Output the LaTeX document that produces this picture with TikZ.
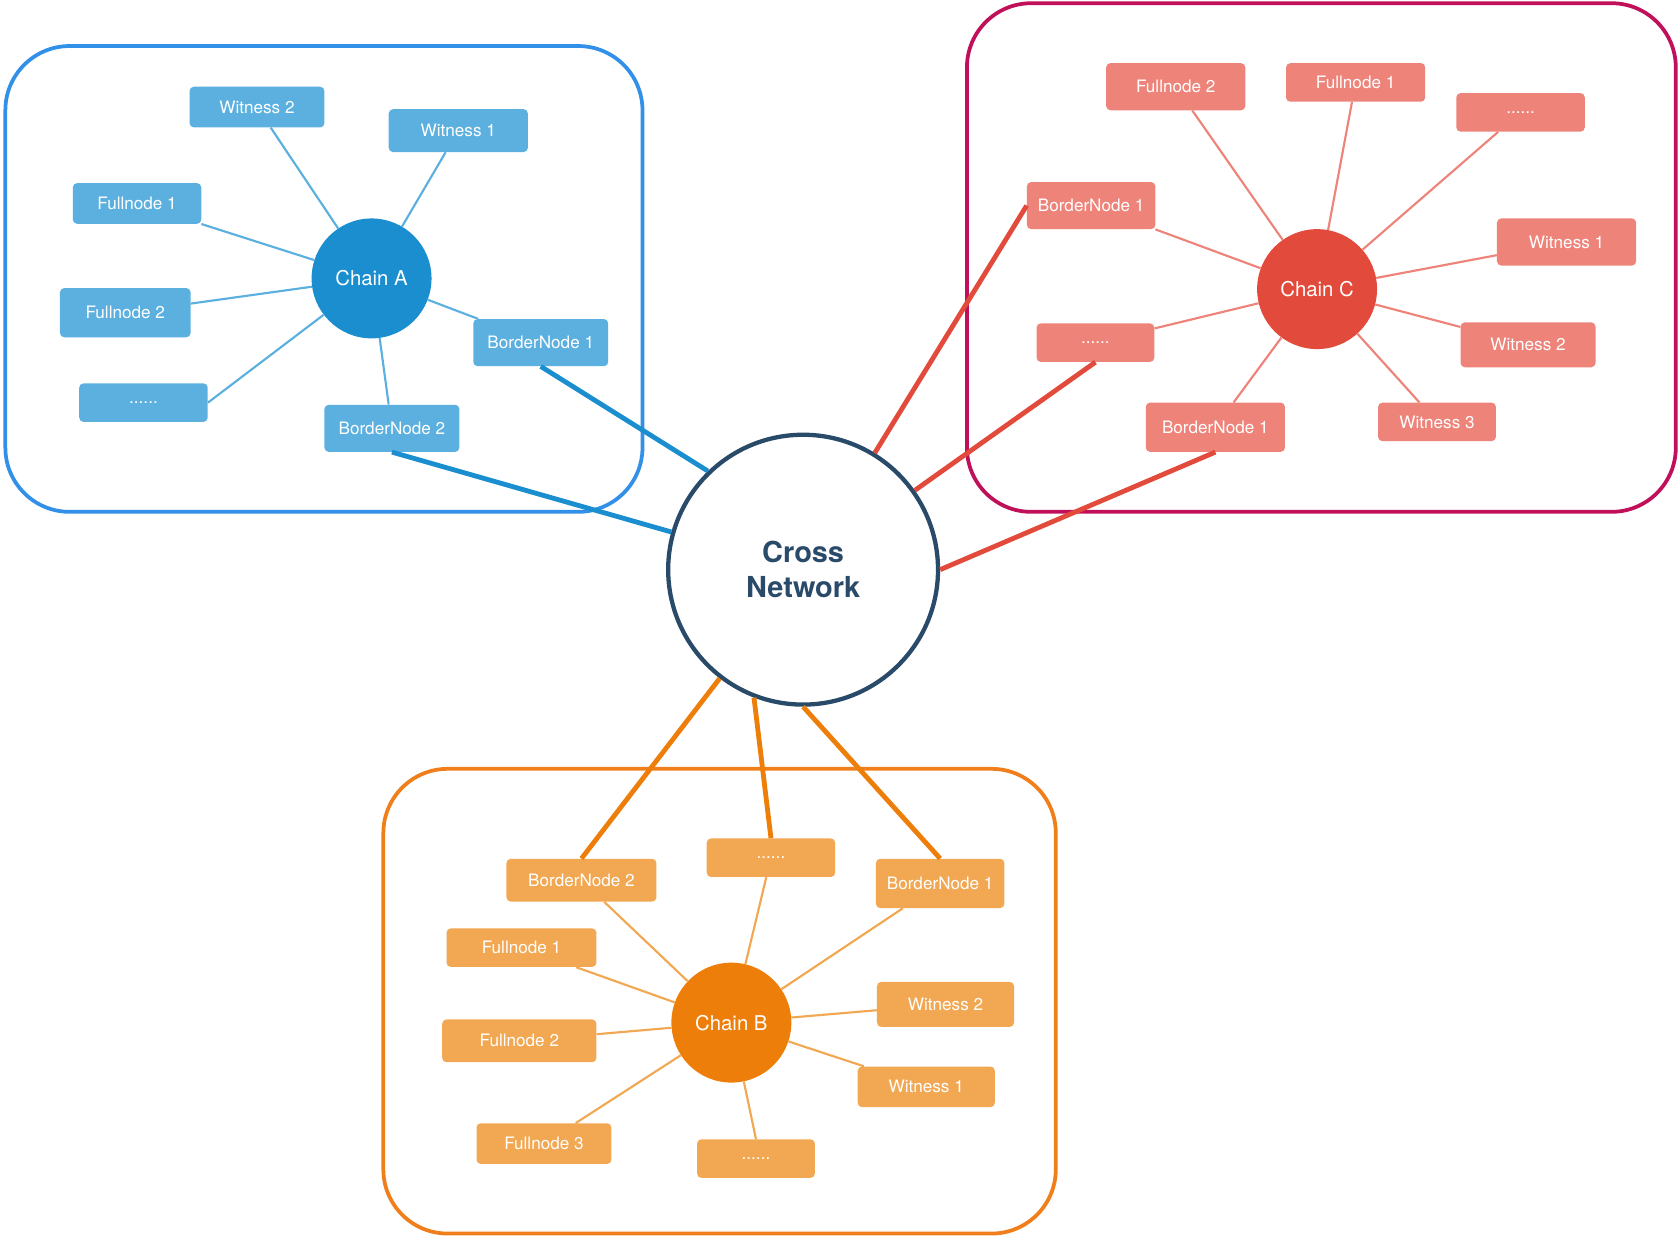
\documentclass[tikz,border=0pt]{standalone}
\usepackage{fontspec}
\setmainfont{TeX Gyre Heros}
\usetikzlibrary{positioning}
\definecolor{boxA}{HTML}{3390E8}
\definecolor{hubA}{HTML}{1A8ECF}
\definecolor{leafA}{HTML}{5BB0DF}
\definecolor{boxC}{HTML}{C0105A}
\definecolor{hubC}{HTML}{E24A3B}
\definecolor{leafC}{HTML}{EE837A}
\definecolor{boxB}{HTML}{F07E1A}
\definecolor{hubB}{HTML}{EE7E0A}
\definecolor{leafB}{HTML}{F2A852}
\definecolor{cross}{HTML}{2A4A6A}
\tikzset{
  leaf/.style={rectangle, rounded corners=4pt, text=white, font=\fontsize{16}{18}\selectfont, minimum height=38pt, inner sep=0pt},
  hub/.style={circle, minimum size=112pt, inner sep=0pt, text=white, font=\fontsize{19}{21}\selectfont},
  group/.style={line width=3.5pt, rounded corners=60pt},
}
\begin{document}
\begin{tikzpicture}[x=1pt,y=-1pt]
            \useasboundingbox (0,0) rectangle (1568,1156);
            % Group boxes
            \draw[group, boxA] (5,43) rectangle (600,478);
            \draw[group, boxC] (903,3) rectangle (1565,478);
            \draw[group, boxB] (358,718) rectangle (986,1152);

            % Chain A
            \node[hub, fill=hubA] (chA) at (347,260) {Chain A};
            \node[leaf, fill=leafA, minimum width=126pt] (aW2) at (240,100) {Witness 2};
            \node[leaf, fill=leafA, minimum width=130pt, minimum height=40pt] (aW1) at (428,122) {Witness 1};
            \node[leaf, fill=leafA, minimum width=120pt] (aF1) at (128,190) {Fullnode 1};
            \node[leaf, fill=leafA, minimum width=122pt, minimum height=46pt] (aF2) at (117,292) {Fullnode 2};
            \node[leaf, fill=leafA, minimum width=120pt, minimum height=36pt] (aD) at (134,376) {......};
            \node[leaf, fill=leafA, minimum width=126pt, minimum height=44pt] (aB2) at (366,400) {BorderNode 2};
            \node[leaf, fill=leafA, minimum width=126pt, minimum height=44pt] (aB1) at (505,320) {BorderNode 1};
            \foreach \n in {aW2,aW1,aF1,aF2,aB2,aB1}
              \draw[leafA, line width=2pt] (chA) -- (\n);
            \draw[leafA, line width=2pt] (chA) -- (aD.east);

            % Chain C
            \node[hub, fill=hubC] (chC) at (1230,270) {Chain C};
            \node[leaf, fill=leafC, minimum width=130pt, minimum height=44pt] (cF2) at (1098,81) {Fullnode 2};
            \node[leaf, fill=leafC, minimum width=130pt, minimum height=36pt] (cF1) at (1266,77) {Fullnode 1};
            \node[leaf, fill=leafC, minimum width=120pt, minimum height=36pt] (cD1) at (1420,105) {......};
            \node[leaf, fill=leafC, minimum width=120pt, minimum height=44pt] (cB1) at (1019,192) {BorderNode 1};
            \node[leaf, fill=leafC, minimum width=130pt, minimum height=44pt] (cW1) at (1463,226) {Witness 1};
            \node[leaf, fill=leafC, minimum width=110pt, minimum height=36pt] (cD2) at (1023,320) {......};
            \node[leaf, fill=leafC, minimum width=126pt, minimum height=42pt] (cW2) at (1427,322) {Witness 2};
            \node[leaf, fill=leafC, minimum width=130pt, minimum height=46pt] (cB2) at (1135,399) {BorderNode 1};
            \node[leaf, fill=leafC, minimum width=110pt, minimum height=36pt] (cW3) at (1342,394) {Witness 3};
            \foreach \n in {cF2,cF1,cD1,cB1,cW1,cD2,cW2,cB2,cW3}
              \draw[leafC, line width=2pt] (chC) -- (\n);

            % Chain B
            \node[hub, fill=hubB] (chB) at (683,955) {Chain B};
            \node[leaf, fill=leafB, minimum width=140pt, minimum height=40pt] (bB2) at (543,822) {BorderNode 2};
            \node[leaf, fill=leafB, minimum width=120pt, minimum height=36pt] (bD1) at (720,801) {......};
            \node[leaf, fill=leafB, minimum width=120pt, minimum height=46pt] (bB1) at (878,825) {BorderNode 1};
            \node[leaf, fill=leafB, minimum width=140pt, minimum height=36pt] (bF1) at (487,885) {Fullnode 1};
            \node[leaf, fill=leafB, minimum width=144pt, minimum height=40pt] (bF2) at (485,972) {Fullnode 2};
            \node[leaf, fill=leafB, minimum width=128pt, minimum height=42pt] (bW2) at (883,938) {Witness 2};
            \node[leaf, fill=leafB, minimum width=128pt, minimum height=38pt] (bW1) at (865,1015) {Witness 1};
            \node[leaf, fill=leafB, minimum width=126pt, minimum height=38pt] (bF3) at (508,1068) {Fullnode 3};
            \node[leaf, fill=leafB, minimum width=110pt, minimum height=36pt] (bD2) at (706,1082) {......};
            \foreach \n in {bB2,bD1,bB1,bF1,bF2,bW2,bW1,bF3}
              \draw[leafB, line width=2pt] (chB) -- (\n);
            \draw[leafB, line width=2pt] (chB) -- (bD2.north);

            % Cross network
            \node[circle, draw=cross, line width=4pt, fill=white, minimum size=252pt, inner sep=0pt, align=center, text=cross, font=\bfseries\fontsize{27}{33}\selectfont] (cn) at (750,532) {Cross\\Network};
            \draw[hubA, line width=4.5pt] (aB1.south) -- (cn.134);
            \draw[hubA, line width=4.5pt] (aB2.south) -- (cn);
            \draw[hubC, line width=4.5pt] (cB1.west) -- (cn);
            \draw[hubC, line width=4.5pt] (cD2.south) -- (cn);
            \draw[hubC, line width=4.5pt] (cB2.south) -- (cn.0);
            \draw[hubB, line width=4.5pt] (bB2.north) -- (cn);
            \draw[hubB, line width=4.5pt] (bD1.north) -- (cn.-111);
            \draw[hubB, line width=4.5pt] (bB1.north) -- (cn.-90);
\end{tikzpicture}
\end{document}
